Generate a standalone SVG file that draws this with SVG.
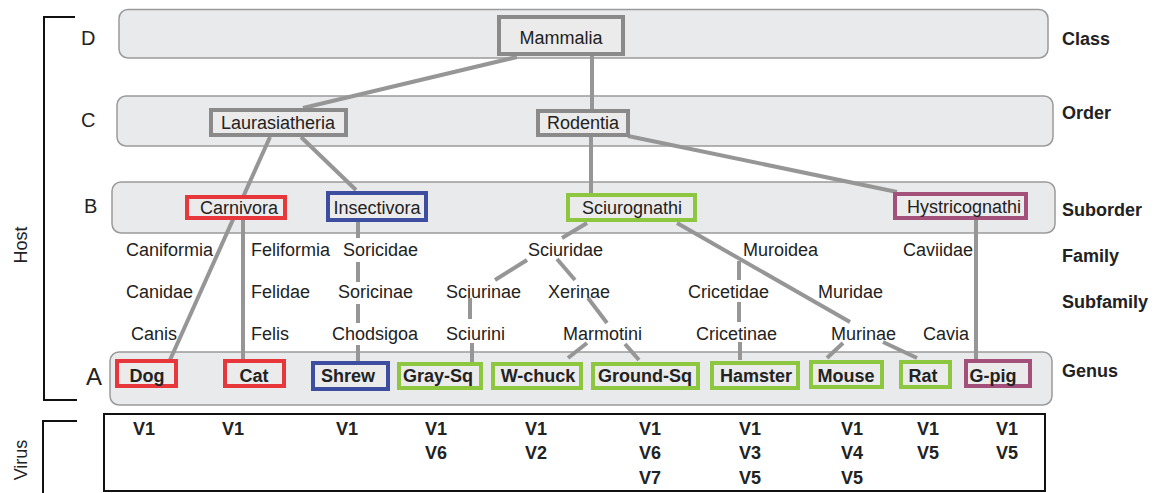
<svg xmlns="http://www.w3.org/2000/svg" width="1158" height="493" viewBox="0 0 1158 493">
<style>
text{font-family:"Liberation Sans",Arial,sans-serif;fill:#222}
.band{fill:#e9eaeb;stroke:#9a9a9a;stroke-width:1.5}
.n{font-size:18px}
.nb{font-size:18px;font-weight:bold}
.lvl{font-size:20px}
.rt{font-size:18px;font-weight:bold}
.v{font-size:18px;font-weight:bold;text-anchor:middle}
.box{fill:#ebebeb;stroke-width:4}
.gray{stroke:#8a8a8a}
.red{stroke:#e8373a}
.blue{stroke:#3d4ea0}
.green{stroke:#8dc63f}
.purple{stroke:#a3507a}
.c{stroke:#969696;stroke-width:4;fill:none}
.k{stroke:#111;stroke-width:2;fill:none}
</style>
<rect width="1158" height="493" fill="#fff"/>
<g id="bands">
<rect class="band" x="119" y="9.5" width="929" height="48.5" rx="9"/>
<rect class="band" x="117" y="96" width="936" height="50" rx="9"/>
<rect class="band" x="112" y="182" width="943" height="51" rx="9"/>
<rect class="band" x="110" y="352" width="942" height="53" rx="9"/>
</g>
<g id="brackets">
<path class="k" d="M75,17 H44 V400 H77"/>
<path class="k" d="M77,421 H43 V493"/>
<text x="27" y="245" font-size="18" text-anchor="middle" transform="rotate(-90 27 245)">Host</text>
<text x="27" y="460" font-size="18" text-anchor="middle" transform="rotate(-90 27 460)">Virus</text>
<rect x="104" y="414" width="941" height="77" fill="none" stroke="#111" stroke-width="2"/>
</g>
<g id="level-letters">
<text class="lvl" x="81" y="45">D</text>
<text class="lvl" x="81" y="127">C</text>
<text class="lvl" x="84" y="213">B</text>
<text x="86" y="385" font-size="24">A</text>
</g>
<g id="rank-labels">
<text class="rt" x="1062" y="45">Class</text>
<text class="rt" x="1062" y="119">Order</text>
<text class="rt" x="1062" y="216">Suborder</text>
<text class="rt" x="1062" y="262">Family</text>
<text class="rt" x="1062" y="308">Subfamily</text>
<text class="rt" x="1062" y="377">Genus</text>
</g>
<g id="connectors">
<line class="c" x1="517" y1="57" x2="303" y2="108"/>
<line class="c" x1="592" y1="55" x2="592" y2="110"/>
<line class="c" x1="270" y1="137" x2="170" y2="360"/>
<line class="c" x1="243" y1="220" x2="243" y2="360"/>
<line class="c" x1="301" y1="137" x2="356" y2="190"/>
<line class="c" x1="358" y1="222" x2="358" y2="238"/>
<line class="c" x1="358" y1="262" x2="358" y2="282"/>
<line class="c" x1="358" y1="304" x2="358" y2="323"/>
<line class="c" x1="358" y1="345" x2="358" y2="361"/>
<line class="c" x1="591" y1="137" x2="591" y2="193"/>
<line class="c" x1="628" y1="136" x2="897" y2="192"/>
<line class="c" x1="976" y1="220" x2="976" y2="360"/>
<line class="c" x1="587" y1="223" x2="562" y2="238"/>
<line class="c" x1="677" y1="223" x2="850" y2="322"/>
<line class="c" x1="527" y1="260" x2="495" y2="280"/>
<line class="c" x1="557" y1="259" x2="575" y2="280"/>
<line class="c" x1="470" y1="298" x2="470" y2="319"/>
<line class="c" x1="472" y1="343" x2="472" y2="362"/>
<line class="c" x1="588" y1="298" x2="607" y2="323"/>
<line class="c" x1="587" y1="343" x2="568" y2="358"/>
<line class="c" x1="625" y1="344" x2="639" y2="360"/>
<line class="c" x1="739" y1="261" x2="739" y2="280"/>
<line class="c" x1="739" y1="302" x2="739" y2="322"/>
<line class="c" x1="740" y1="342" x2="740" y2="360"/>
<line class="c" x1="843" y1="343" x2="827" y2="358"/>
<line class="c" x1="883" y1="342" x2="917" y2="358"/>
</g>
<g id="taxon-labels" class="n">
<text class="n" x="126" y="256">Caniformia</text>
<text class="n" x="251" y="256">Feliformia</text>
<text class="n" x="343" y="256">Soricidae</text>
<text class="n" x="528" y="256">Sciuridae</text>
<text class="n" x="743" y="256">Muroidea</text>
<text class="n" x="903" y="256">Caviidae</text>
<text class="n" x="126" y="298">Canidae</text>
<text class="n" x="251" y="298">Felidae</text>
<text class="n" x="338" y="298">Soricinae</text>
<text class="n" x="446" y="298">Sciurinae</text>
<text class="n" x="548" y="298">Xerinae</text>
<text class="n" x="688" y="298">Cricetidae</text>
<text class="n" x="818" y="298">Muridae</text>
<text class="n" x="131" y="340">Canis</text>
<text class="n" x="251" y="340">Felis</text>
<text class="n" x="332" y="340">Chodsigoa</text>
<text class="n" x="446" y="340">Sciurini</text>
<text class="n" x="563" y="340">Marmotini</text>
<text class="n" x="696" y="340">Cricetinae</text>
<text class="n" x="831" y="340">Murinae</text>
<text class="n" x="923" y="340">Cavia</text>
</g>
<g id="node-mammalia"><rect class="box gray" x="499" y="17" width="124" height="37"/><text class="n" x="561" y="44" text-anchor="middle">Mammalia</text></g>
<g id="node-laurasiatheria"><rect class="box gray" x="211" y="110" width="135" height="25"/><text class="n" x="278" y="129" text-anchor="middle">Laurasiatheria</text></g>
<g id="node-rodentia"><rect class="box gray" x="538" y="111" width="90" height="24"/><text class="n" x="583" y="129" text-anchor="middle">Rodentia</text></g>
<g id="node-carnivora"><rect class="box red" x="187" y="197" width="98" height="21"/><text class="n" x="239" y="214" text-anchor="middle">Carnivora</text></g>
<g id="node-insectivora"><rect class="box blue" x="328" y="193" width="98" height="27"/><text class="n" x="377" y="214" text-anchor="middle">Insectivora</text></g>
<g id="node-sciurognathi"><rect class="box green" x="568" y="195" width="127" height="25"/><text class="n" x="632" y="214" text-anchor="middle">Sciurognathi</text></g>
<g id="node-hystricognathi"><rect class="box purple" x="895" y="194" width="131" height="24"/><text class="n" x="964" y="213" text-anchor="middle">Hystricognathi</text></g>
<g id="node-dog"><rect class="box red" x="117" y="361" width="59" height="25"/><text class="nb" x="147" y="382" text-anchor="middle">Dog</text></g>
<g id="node-cat"><rect class="box red" x="225" y="361" width="59" height="25"/><text class="nb" x="254" y="382" text-anchor="middle">Cat</text></g>
<g id="node-shrew"><rect class="box blue" x="313" y="363" width="75" height="26"/><text class="nb" x="348" y="382" text-anchor="middle">Shrew</text></g>
<g id="node-graysq"><rect class="box green" x="399" y="364" width="82" height="24"/><text class="nb" x="438" y="382" text-anchor="middle">Gray-Sq</text></g>
<g id="node-wchuck"><rect class="box green" x="493" y="364" width="88" height="24"/><text class="nb" x="538" y="382" text-anchor="middle">W-chuck</text></g>
<g id="node-groundsq"><rect class="box green" x="593" y="364" width="105" height="24"/><text class="nb" x="645" y="382" text-anchor="middle">Ground-Sq</text></g>
<g id="node-hamster"><rect class="box green" x="712" y="363" width="86" height="25"/><text class="nb" x="756" y="382" text-anchor="middle">Hamster</text></g>
<g id="node-mouse"><rect class="box green" x="811" y="362" width="71" height="25"/><text class="nb" x="846" y="382" text-anchor="middle">Mouse</text></g>
<g id="node-rat"><rect class="box green" x="901" y="362" width="49" height="25"/><text class="nb" x="923" y="382" text-anchor="middle">Rat</text></g>
<g id="node-gpig"><rect class="box purple" x="966" y="361" width="64" height="25"/><text class="nb" x="993" y="382" text-anchor="middle">G-pig</text></g>
<g id="virus-table">
<text class="v" x="144" y="435">V1</text>
<text class="v" x="233" y="435">V1</text>
<text class="v" x="347" y="435">V1</text>
<text class="v" x="436" y="435">V1</text><text class="v" x="436" y="459">V6</text>
<text class="v" x="536" y="435">V1</text><text class="v" x="536" y="459">V2</text>
<text class="v" x="650" y="435">V1</text><text class="v" x="650" y="459">V6</text><text class="v" x="650" y="484">V7</text>
<text class="v" x="750" y="435">V1</text><text class="v" x="750" y="459">V3</text><text class="v" x="750" y="484">V5</text>
<text class="v" x="852" y="435">V1</text><text class="v" x="852" y="459">V4</text><text class="v" x="852" y="484">V5</text>
<text class="v" x="928" y="435">V1</text><text class="v" x="928" y="459">V5</text>
<text class="v" x="1007" y="435">V1</text><text class="v" x="1007" y="459">V5</text>
</g>
</svg>
